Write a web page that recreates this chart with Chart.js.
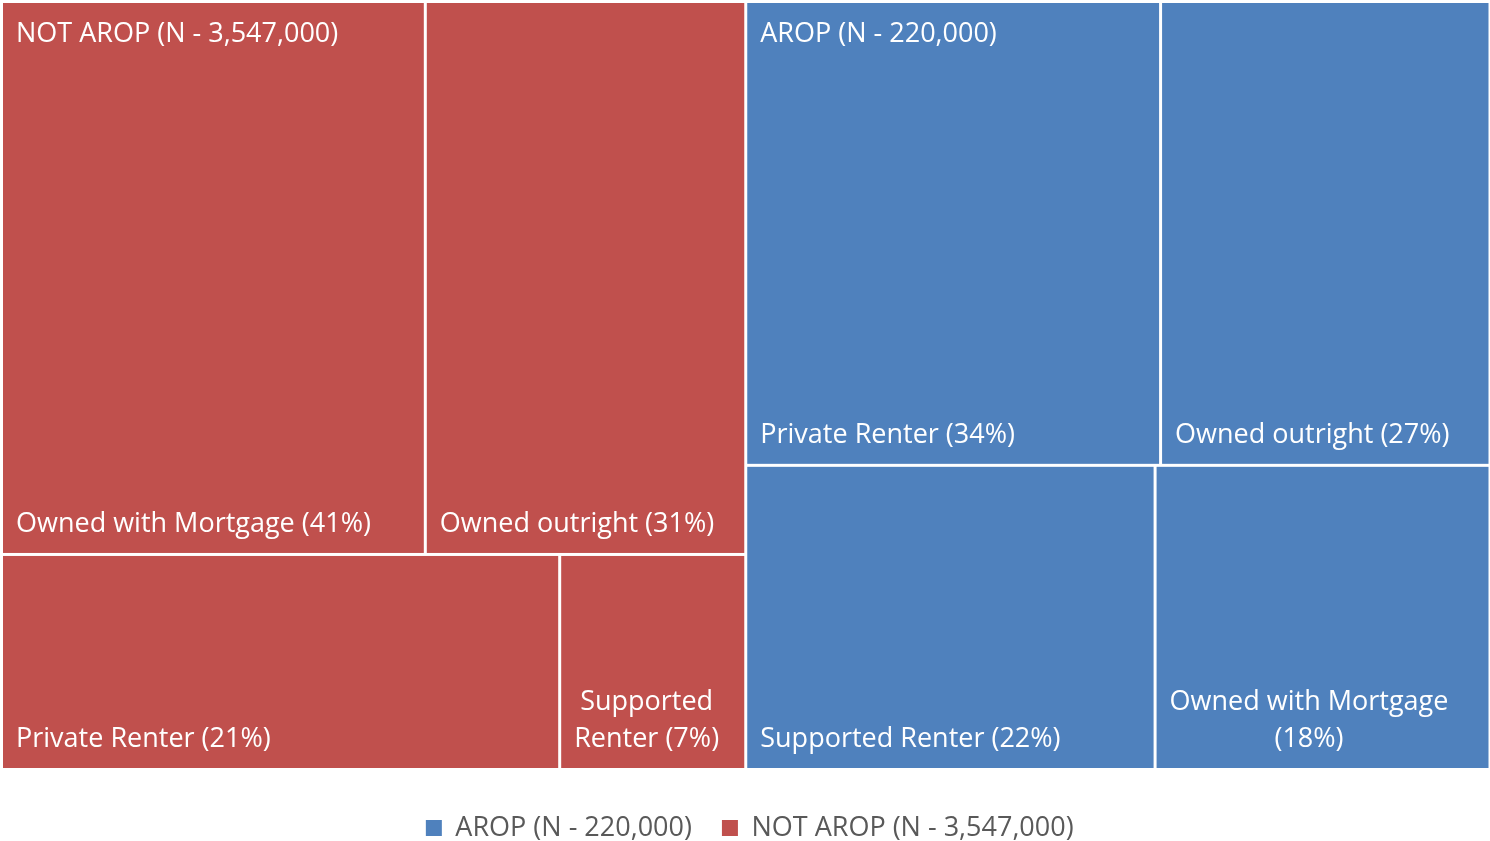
<!DOCTYPE html>
<html>
<head>
<meta charset="utf-8">
<title>Housing tenure treemap</title>
<script src="https://cdn.jsdelivr.net/npm/chart.js@4.4.1/dist/chart.umd.min.js"></script>
<style>
  html, body { margin: 0; padding: 0; background: #fff; }
  #wrap { width: 1490px; height: 841px; position: relative; }
</style>
</head>
<body>
<div id="wrap"><canvas id="chart"></canvas></div>
<script>
// groups, drawn left to right
const groupLabels = ["NOT AROP (N - 3,547,000)", "AROP (N - 220,000)"];

// NOT AROP tenure shares (%)
const notAropCategories = ["Owned with Mortgage", "Owned outright", "Private Renter", "Supported Renter"];
const notAropValues = [41, 31, 21, 7];

// AROP tenure shares (%)
const aropCategories = ["Private Renter", "Owned outright", "Supported Renter", "Owned with Mortgage"];
const aropValues = [34, 27, 22, 18];

const RED = "#C0504D";
const BLUE = "#4F81BD";
const FONT = '"Open Sans", "DejaVu Sans", sans-serif';
const FONT_SIZE = 27;

const groups = [
  { name: groupLabels[0], color: RED, categories: notAropCategories, values: notAropValues },
  { name: groupLabels[1], color: BLUE, categories: aropCategories, values: aropValues },
];

const sum = arr => arr.reduce((a, b) => a + b, 0);

// squarified layout, keeps the given order
function squarify(values, x, y, w, h) {
  const scale = (w * h) / sum(values);
  const areas = values.map(v => v * scale);
  const out = [];
  const worst = (row, side) => {
    const s = sum(row);
    const mx = Math.max(...row), mn = Math.min(...row);
    return Math.max((side * side * mx) / (s * s), (s * s) / (side * side * mn));
  };
  let i = 0;
  while (i < areas.length) {
    const side = Math.min(w, h);
    const row = [areas[i]];
    let j = i + 1;
    while (j < areas.length && worst(row.concat(areas[j]), side) <= worst(row, side)) {
      row.push(areas[j]);
      j++;
    }
    const rowArea = sum(row);
    if (w >= h) {
      const colW = rowArea / h;
      let cy = y;
      row.forEach((a, k) => {
        const ih = a / colW;
        out[i + k] = { x: x, y: cy, w: colW, h: ih };
        cy += ih;
      });
      x += colW; w -= colW;
    } else {
      const rowH = rowArea / w;
      let cx = x;
      row.forEach((a, k) => {
        const iw = a / rowH;
        out[i + k] = { x: cx, y: y, w: iw, h: rowH };
        cx += iw;
      });
      y += rowH; h -= rowH;
    }
    i = j;
  }
  return out;
}

function wrapText(ctx, text, maxW) {
  const words = text.split(" ");
  const lines = [];
  let cur = "";
  words.forEach(wd => {
    const test = cur ? cur + " " + wd : wd;
    if (cur && ctx.measureText(test).width > maxW) {
      lines.push(cur);
      cur = wd;
    } else {
      cur = test;
    }
  });
  if (cur) lines.push(cur);
  return lines;
}

const treemapPlugin = {
  id: "treemap",
  afterDatasetsDraw(chart) {
    const { ctx, scales } = chart;
    const left = scales.x.getPixelForValue(0);
    const right = scales.x.getPixelForValue(1);
    const top = scales.y.getPixelForValue(1);
    const bottom = scales.y.getPixelForValue(0);
    const gap = 1.5, pad = 13, lineH = 37;

    // each group is 100% of its own population, so both get the same weight
    const groupRects = squarify(groups.map(() => 100), left, top, right - left, bottom - top);

    ctx.save();
    ctx.font = FONT_SIZE + "px " + FONT;
    groups.forEach((g, gi) => {
      const gr = groupRects[gi];
      const tiles = squarify(g.values, gr.x, gr.y, gr.w, gr.h);
      tiles.forEach((t, k) => {
        ctx.fillStyle = g.color;
        ctx.fillRect(t.x + gap, t.y + gap, t.w - gap * 2, t.h - gap * 2);

        const label = g.categories[k] + " (" + g.values[k] + "%)";
        const lines = wrapText(ctx, label, t.w - gap * 2 - pad * 2);
        const blockW = Math.max(...lines.map(l => ctx.measureText(l).width));
        const cx = t.x + gap + pad + blockW / 2;
        ctx.fillStyle = "#fff";
        ctx.textAlign = "center";
        ctx.textBaseline = "middle";
        lines.forEach((l, li) => {
          const ly = t.y + t.h - 30 - (lines.length - 1 - li) * lineH;
          ctx.fillText(l, cx, ly);
        });
      });
      ctx.fillStyle = "#fff";
      ctx.textAlign = "left";
      ctx.textBaseline = "middle";
      ctx.fillText(g.name, gr.x + gap + pad, gr.y + 33);
    });
    ctx.restore();
  },
};

// push the legend row down a little
const legendShift = {
  id: "legendShift",
  afterLayout(chart) {
    chart.legend.top += 15;
    chart.legend.bottom += 15;
    chart.legend.left += 4;
    chart.legend.right += 4;
  },
};

new Chart(document.getElementById("chart"), {
  type: "scatter",
  data: {
    datasets: [
      { label: groupLabels[1], data: [], backgroundColor: BLUE, borderWidth: 0 },
      { label: groupLabels[0], data: [], backgroundColor: RED, borderWidth: 0 },
    ],
  },
  options: {
    responsive: true,
    maintainAspectRatio: false,
    animation: false,
    layout: { padding: { left: 1.5, top: 1.5, right: 0, bottom: 4.5 } },
    scales: {
      x: { type: "linear", min: 0, max: 1, display: false },
      y: { type: "linear", min: 0, max: 1, display: false },
    },
    plugins: {
      tooltip: { enabled: false },
      legend: {
        position: "bottom",
        onClick: null,
        labels: {
          font: { family: FONT, size: FONT_SIZE },
          color: "#595959",
          boxWidth: 16,
          boxHeight: 16,
          padding: 30,
        },
      },
    },
  },
  plugins: [treemapPlugin, legendShift],
});
</script>
</body>
</html>
